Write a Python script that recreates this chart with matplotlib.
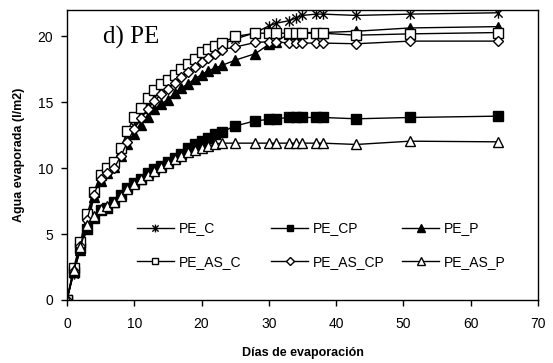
import matplotlib
matplotlib.use("Agg")
import matplotlib.pyplot as plt
from matplotlib.path import Path

days = [0, 1, 2, 3, 4, 5, 6, 7, 8, 9, 10, 11, 12, 13, 14, 15, 16, 17, 18, 19, 20,
        21, 22, 23, 25, 28, 30, 31, 33, 34, 35, 37, 38, 43, 51, 64]

pe_c = [0, 2.0, 4.0, 6.0, 8.0, 9.2, 9.8, 10.3, 11.1, 12.2, 13.2, 14.0, 14.8, 15.4, 15.9,
        16.3, 16.8, 17.2, 17.6, 18.0, 18.4, 18.8, 19.1, 19.4, 19.8, 20.3, 20.8, 21.0,
        21.2, 21.4, 21.6, 21.7, 21.7, 21.6, 21.7, 21.8]
pe_cp = [0, 2.1, 3.9, 5.4, 6.2, 6.8, 7.0, 7.4, 8.0, 8.5, 8.9, 9.2, 9.6, 9.9, 10.2, 10.5,
         10.8, 11.1, 11.5, 11.8, 12.1, 12.3, 12.6, 12.75, 13.2, 13.6, 13.7, 13.75, 13.85,
         13.85, 13.85, 13.85, 13.85, 13.75, 13.85, 13.95]
pe_p = [0, 2.1, 3.8, 5.5, 7.8, 9.0, 9.6, 10.1, 10.9, 11.8, 12.6, 13.3, 13.9, 14.5, 14.9,
        15.2, 15.7, 16.1, 16.4, 16.8, 17.1, 17.4, 17.6, 17.8, 18.2, 18.7, 19.4, 19.6, 20.2,
        20.2, 20.3, 20.3, 20.3, 20.4, 20.65, 20.75]
pe_as_c = [0, 2.4, 4.4, 6.5, 8.2, 9.5, 10.0, 10.5, 11.5, 12.8, 13.9, 14.6, 15.3, 15.9, 16.4,
           16.7, 17.1, 17.5, 17.9, 18.3, 18.8, 19.05, 19.3, 19.5, 20.0, 20.25, 20.25, 20.25,
           20.25, 20.25, 20.25, 20.25, 20.25, 20.1, 20.2, 20.3]
pe_as_cp = [0, 2.2, 4.1, 6.1, 8.0, 9.2, 9.6, 10.0, 10.9, 12.0, 13.0, 13.8, 14.5, 15.1, 15.6,
            16.0, 16.5, 16.9, 17.3, 17.7, 18.1, 18.4, 18.7, 19.0, 19.2, 19.55, 19.6, 19.6,
            19.5, 19.5, 19.5, 19.5, 19.5, 19.45, 19.65, 19.65]
pe_as_p = [0, 2.3, 4.0, 5.7, 6.4, 6.9, 7.1, 7.4, 7.9, 8.4, 8.8, 9.2, 9.5, 9.8, 10.1, 10.4,
           10.7, 10.9, 11.2, 11.35, 11.5, 11.65, 11.85, 11.9, 11.9, 11.9, 11.9, 11.9, 11.9,
           11.9, 11.9, 11.9, 11.9, 11.8, 12.05, 12.0]

labels = ["PE_C", "PE_CP", "PE_P", "PE_AS_C", "PE_AS_CP", "PE_AS_P"]
xticks = [0, 10, 20, 30, 40, 50, 60, 70]
yticks = [0, 5, 10, 15, 20]

star = Path([(0, -1), (0, 1), (-0.8, -0.8), (0.8, 0.8), (-0.8, 0.8), (0.8, -0.8)],
            [Path.MOVETO, Path.LINETO, Path.MOVETO, Path.LINETO, Path.MOVETO, Path.LINETO])

plt.rcParams['font.family'] = ['Liberation Sans', 'DejaVu Sans']
fig = plt.figure(figsize=(5.53, 3.63), dpi=100)
ax = fig.add_axes([0.121, 0.174, 0.852, 0.798])

series = [pe_c, pe_cp, pe_p, pe_as_c, pe_as_cp, pe_as_p]
styles = [
    dict(marker=star, markersize=7.5, markerfacecolor='none', markeredgewidth=1.0),
    dict(marker='s', markersize=6.5, markerfacecolor='black'),
    dict(marker='^', markersize=7, markerfacecolor='black'),
    dict(marker='s', markersize=6.5, markerfacecolor='white', markeredgewidth=1.0),
    dict(marker='D', markersize=5.5, markerfacecolor='white', markeredgewidth=1.0),
    dict(marker='^', markersize=7, markerfacecolor='white', markeredgewidth=1.0),
]
handles = []
for ys, lab, st in zip(series, labels, styles):
    h, = ax.plot(days, ys, color='black', linewidth=1.0, markeredgecolor='black',
                 label=lab, **st)
    handles.append(h)

ax.set_xlim(0, 70)
ax.set_ylim(0, 22)
ax.set_xticks(xticks)
ax.set_yticks(yticks)
ax.tick_params(direction='out', length=4, labelsize=10, width=1)
ax.tick_params(axis='x', pad=8)
ax.tick_params(axis='y', pad=6)
for s in ax.spines.values():
    s.set_color('black')
    s.set_linewidth(1.0)

ax.set_xlabel("Días de evaporación", fontsize=9, fontweight='bold', labelpad=12)
ax.set_ylabel("Agua evaporada (l/m2)", fontsize=9, fontweight='bold', labelpad=9)

ax.text(0.077, 0.905, "d) PE", transform=ax.transAxes, fontsize=18,
        family=['Liberation Serif', 'DejaVu Serif'], va='center', ha='left')

# three one-column legends, evenly spaced like the original
col_x = [0.143, 0.428, 0.706]
for i, cx in enumerate(col_x):
    leg = ax.legend(handles=[handles[i], handles[i + 3]], loc='upper left',
                    bbox_to_anchor=(cx, 0.28), frameon=False, fontsize=10,
                    handlelength=2.65, handletextpad=0.35, labelspacing=1.4,
                    borderpad=0.2, borderaxespad=0.0, markerscale=0.75)
    if i < 2:
        ax.add_artist(leg)

fig.savefig("out.png", dpi=100)
